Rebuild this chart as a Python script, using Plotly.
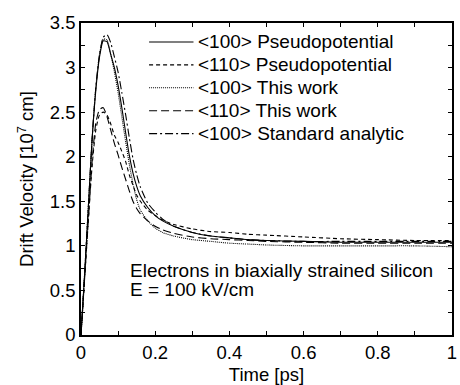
import plotly.graph_objects as go

time_ps = [0, 0.01, 0.02, 0.03, 0.04, 0.05, 0.06, 0.07, 0.08, 0.09, 0.10, 0.11, 0.12, 0.13,
           0.14, 0.15, 0.16, 0.18, 0.20, 0.22, 0.25, 0.30, 0.35, 0.40, 0.45, 0.50, 0.60,
           0.70, 0.80, 0.90, 1.00]

pp_100 = [0, 0.70, 1.45, 2.20, 2.75, 3.12, 3.30, 3.29, 3.15, 3.00, 2.80, 2.55, 2.28, 2.02,
          1.82, 1.67, 1.56, 1.43, 1.34, 1.28, 1.22, 1.15, 1.11, 1.09, 1.07, 1.06, 1.05,
          1.04, 1.04, 1.04, 1.04]
pp_110 = [0, 0.65, 1.30, 1.90, 2.30, 2.47, 2.50, 2.47, 2.37, 2.24, 2.16, 2.06, 1.95, 1.80,
          1.68, 1.57, 1.50, 1.40, 1.34, 1.29, 1.24, 1.19, 1.16, 1.15, 1.13, 1.12, 1.10,
          1.08, 1.07, 1.06, 1.06]
tw_100 = [0, 0.70, 1.45, 2.20, 2.78, 3.15, 3.32, 3.31, 3.15, 2.95, 2.72, 2.45, 2.18, 1.92,
          1.70, 1.52, 1.40, 1.28, 1.20, 1.15, 1.11, 1.07, 1.05, 1.03, 1.02, 1.01, 1.00,
          1.00, 1.00, 1.00, 0.99]
tw_110 = [0, 0.65, 1.30, 1.95, 2.38, 2.53, 2.55, 2.45, 2.30, 2.15, 2.02, 1.88, 1.75, 1.62,
          1.50, 1.42, 1.36, 1.28, 1.22, 1.18, 1.14, 1.10, 1.08, 1.07, 1.06, 1.05, 1.04,
          1.03, 1.03, 1.03, 1.03]
sa_100 = [0, 0.70, 1.45, 2.20, 2.78, 3.15, 3.34, 3.37, 3.28, 3.12, 2.95, 2.72, 2.48, 2.22,
          1.98, 1.80, 1.66, 1.48, 1.38, 1.30, 1.22, 1.15, 1.11, 1.09, 1.07, 1.06, 1.05,
          1.05, 1.05, 1.05, 1.05]

series_names = ["<100> Pseudopotential", "<110> Pseudopotential", "<100> This work",
                "<110> This work", "<100> Standard analytic"]
series_values = [pp_100, pp_110, tw_100, tw_110, sa_100]
series_dash = ["solid", "4px,3px", "1px,1px", "8px,4px", "8px,3px,2px,3px"]

x_ticks = [0, 0.2, 0.4, 0.6, 0.8, 1]
x_labels = ["0", "0.2", "0.4", "0.6", "0.8", "1"]
y_ticks = [0, 0.5, 1, 1.5, 2, 2.5, 3, 3.5]
y_labels = ["0", "0.5", "1", "1.5", "2", "2.5", "3", "3.5"]

annotation_lines = ["Electrons in biaxially strained silicon", "E = 100 kV/cm"]

FONT = "Liberation Sans, Arial, Helvetica, sans-serif"
FS = 18.5
FS_TEXT = 19

fig = go.Figure()
for name, vals, dash in zip(series_names, series_values, series_dash):
    fig.add_trace(go.Scatter(x=time_ps, y=vals, name=name, mode="lines", showlegend=False,
                             line=dict(color="black", width=1.1, dash=dash, shape="spline",
                                       smoothing=0.6)))

# manual legend (sample line + label), positioned in paper coordinates
leg_x0, leg_x1, leg_tx = 0.1835, 0.3032, 0.309
leg_y0, leg_dy = 0.9393, 0.0735
for i, (name, dash) in enumerate(zip(series_names, series_dash)):
    yy = leg_y0 - i * leg_dy
    fig.add_shape(type="line", xref="paper", yref="paper", x0=leg_x0, x1=leg_x1, y0=yy, y1=yy,
                  line=dict(color="black", width=1.1, dash=dash))
    fig.add_annotation(xref="paper", yref="paper", x=leg_tx, y=yy, xanchor="left",
                       yanchor="middle", text=name.replace("<", "&lt;").replace(">", "&gt;"),
                       showarrow=False, font=dict(family=FONT, size=FS_TEXT, color="black"))

for txt, yy in zip(annotation_lines, [0.208, 0.147]):
    fig.add_annotation(xref="paper", yref="paper", x=0.1257, y=yy, xanchor="left",
                       yanchor="middle", text=txt, showarrow=False,
                       font=dict(family=FONT, size=FS_TEXT, color="black"))

axis_common = dict(showline=True, linecolor="black", linewidth=1.5, mirror="ticks",
                   ticks="inside", ticklen=4, tickwidth=1, tickcolor="black",
                   showgrid=False, zeroline=False, ticklabeloverflow="allow",
                   tickfont=dict(family=FONT, size=FS, color="black"))

fig.update_xaxes(range=[0, 1], tickvals=x_ticks, ticktext=x_labels,
                 minor=dict(dtick=0.1, ticks="inside", ticklen=4, tickcolor="black", tickwidth=1),
                 title=dict(text="Time [ps]", font=dict(family=FONT, size=FS, color="black"),
                            standoff=6),
                 **axis_common)
fig.update_yaxes(range=[0, 3.5], tickvals=y_ticks, ticktext=y_labels,
                 minor=dict(dtick=0.25, ticks="inside", ticklen=4, tickcolor="black", tickwidth=1),
                 title=dict(text="Drift Velocity [10<sup>7</sup> cm]",
                            font=dict(family=FONT, size=FS, color="black"), standoff=11),
                 **axis_common)

fig.update_layout(
    width=460, height=385,
    margin=dict(l=81, r=3, t=23, b=49),
    paper_bgcolor="white", plot_bgcolor="white",
    font=dict(family=FONT, size=FS, color="black"),
    showlegend=False,
)

fig.write_html("out.html")
